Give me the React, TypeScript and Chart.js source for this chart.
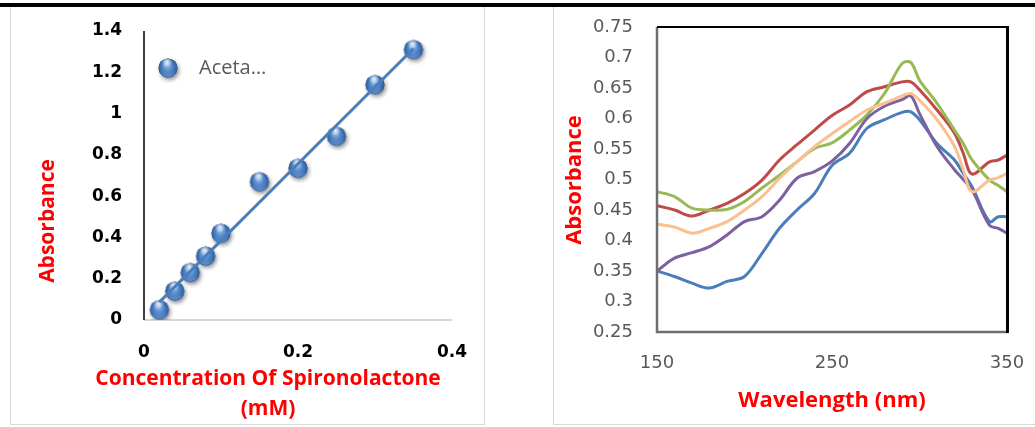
import React, { useEffect, useRef } from "react";
import { Chart, registerables } from "chart.js";

Chart.register(...registerables);

// ---------- Calibration curve (left panel) ----------
const concentrationMM = [0.02, 0.04, 0.06, 0.08, 0.1, 0.15, 0.2, 0.25, 0.3, 0.35];
const calibAbsorbance = [0.05, 0.14, 0.23, 0.31, 0.42, 0.67, 0.735, 0.89, 1.14, 1.31];
const calibSeriesName = "Aceta\u2026";
const calibXTicks = [0, 0.2, 0.4];
const calibYTicks = [0, 0.2, 0.4, 0.6, 0.8, 1, 1.2, 1.4];

// ---------- Absorption spectra (right panel) ----------
const wavelengthNm = [150, 160, 170, 180, 190, 200, 210, 220, 230, 240, 250, 260, 270, 280, 290, 295, 300, 310, 320, 325, 330, 340, 345, 350];
const spectrumBlue = [0.35, 0.341, 0.33, 0.322, 0.333, 0.341, 0.379, 0.42, 0.45, 0.477, 0.523, 0.543, 0.584, 0.598, 0.61, 0.611, 0.598, 0.559, 0.532, 0.51, 0.488, 0.431, 0.439, 0.439];
const spectrumRed = [0.457, 0.45, 0.44, 0.45, 0.461, 0.477, 0.499, 0.532, 0.557, 0.581, 0.605, 0.622, 0.644, 0.652, 0.66, 0.66, 0.647, 0.614, 0.576, 0.543, 0.509, 0.529, 0.532, 0.54];
const spectrumGreen = [0.48, 0.472, 0.453, 0.45, 0.451, 0.464, 0.486, 0.507, 0.529, 0.551, 0.56, 0.581, 0.606, 0.641, 0.69, 0.692, 0.663, 0.625, 0.581, 0.559, 0.532, 0.499, 0.49, 0.48];
const spectrumPurple = [0.35, 0.371, 0.38, 0.39, 0.409, 0.431, 0.439, 0.466, 0.502, 0.513, 0.53, 0.559, 0.6, 0.62, 0.631, 0.637, 0.608, 0.554, 0.516, 0.5, 0.483, 0.425, 0.42, 0.412];
const spectrumPeach = [0.427, 0.422, 0.412, 0.42, 0.431, 0.45, 0.472, 0.502, 0.529, 0.554, 0.575, 0.595, 0.614, 0.625, 0.637, 0.641, 0.63, 0.598, 0.554, 0.516, 0.48, 0.499, 0.503, 0.51];
const spectrumNames = ["Spectrum 1", "Spectrum 2", "Spectrum 3", "Spectrum 4", "Spectrum 5"];
const spectrumColors = ["#4A7EBB", "#BE4B48", "#98B954", "#7D60A0", "#FAC090"];
const spectrumXTicks = [150, 250, 350];
const spectrumYTicks = [0.25, 0.3, 0.35, 0.4, 0.45, 0.5, 0.55, 0.6, 0.65, 0.7, 0.75];

const RED = "#FF0000";

const fmt = (v: number) => String(Number(Number(v).toFixed(2)));

// fixed axis box sizes; label overhang is handled by the layout padding instead
const fixWidth = (w: number) => (s: any) => {
  s.width = w;
  s.paddingTop = s.paddingBottom = s.paddingLeft = s.paddingRight = 0;
};
const fixHeight = (h: number) => (s: any) => {
  s.height = h;
  s.paddingTop = s.paddingBottom = s.paddingLeft = s.paddingRight = 0;
};

function leastSquares(xs: number[], ys: number[]) {
  const n = xs.length;
  const mx = xs.reduce((s, v) => s + v, 0) / n;
  const my = ys.reduce((s, v) => s + v, 0) / n;
  let sxy = 0;
  let sxx = 0;
  for (let i = 0; i < n; i++) {
    sxy += (xs[i] - mx) * (ys[i] - my);
    sxx += (xs[i] - mx) * (xs[i] - mx);
  }
  const slope = sxy / sxx;
  return { slope, intercept: my - slope * mx };
}

// Shaded "glass bead" marker used for the calibration points
function makeBead(): HTMLCanvasElement {
  const size = 30;
  const c = document.createElement("canvas");
  c.width = size;
  c.height = size;
  const g = c.getContext("2d")!;
  const cx = size / 2;
  const cy = size / 2;
  const r = 9.5;
  g.save();
  g.shadowColor = "rgba(0,0,0,0.45)";
  g.shadowBlur = 4;
  g.shadowOffsetX = 1.5;
  g.shadowOffsetY = 2.5;
  g.fillStyle = "#2f5f98";
  g.beginPath();
  g.arc(cx, cy, r, 0, Math.PI * 2);
  g.fill();
  g.restore();

  const body = g.createRadialGradient(cx - 1, cy - 3, 1, cx, cy, r);
  body.addColorStop(0, "#8fb6e8");
  body.addColorStop(0.5, "#4f83c6");
  body.addColorStop(1, "#2b5a96");
  g.fillStyle = body;
  g.beginPath();
  g.arc(cx, cy, r, 0, Math.PI * 2);
  g.fill();

  const rim = g.createLinearGradient(0, cy + 2, 0, cy + r);
  rim.addColorStop(0, "rgba(140,185,240,0)");
  rim.addColorStop(1, "rgba(140,185,240,0.55)");
  g.fillStyle = rim;
  g.beginPath();
  g.arc(cx, cy, r - 0.5, 0, Math.PI * 2);
  g.fill();

  const hl = g.createRadialGradient(cx - 1, cy - 6, 0, cx - 1, cy - 6, 5.5);
  hl.addColorStop(0, "rgba(255,255,255,0.9)");
  hl.addColorStop(1, "rgba(255,255,255,0)");
  g.fillStyle = hl;
  g.beginPath();
  g.arc(cx, cy, r, 0, Math.PI * 2);
  g.fill();
  return c;
}

function CalibrationChart() {
  const ref = useRef<HTMLCanvasElement>(null);
  useEffect(() => {
    const bead = makeBead();
    const fit = leastSquares(concentrationMM, calibAbsorbance);
    const x0 = concentrationMM[0];
    const x1 = concentrationMM[concentrationMM.length - 1];
    const trend = [
      { x: x0, y: fit.slope * x0 + fit.intercept },
      { x: x1, y: fit.slope * x1 + fit.intercept },
    ];

    const decor = {
      id: "calibDecor",
      beforeDatasetsDraw(chart: any) {
        const { ctx, chartArea: a } = chart;
        ctx.save();
        ctx.lineWidth = 1.5;
        ctx.strokeStyle = "#c8c8c8";
        ctx.beginPath();
        ctx.moveTo(a.left, a.bottom);
        ctx.lineTo(a.right, a.bottom);
        ctx.stroke();
        ctx.strokeStyle = "#000000";
        ctx.beginPath();
        ctx.moveTo(a.left, a.top);
        ctx.lineTo(a.left, a.bottom);
        ctx.stroke();
        ctx.restore();
      },
      afterDraw(chart: any) {
        const { ctx, chartArea: a } = chart;
        ctx.save();
        // legend entry
        ctx.drawImage(bead, a.left + 24 - bead.width / 2, a.top + 37 - bead.height / 2);
        ctx.fillStyle = "#595959";
        ctx.font = "20px 'Open Sans'";
        ctx.textAlign = "left";
        ctx.textBaseline = "middle";
        ctx.fillText(calibSeriesName, a.left + 55, a.top + 37);
        // axis titles
        ctx.fillStyle = RED;
        ctx.font = "bold 21px 'Open Sans'";
        ctx.textAlign = "center";
        ctx.fillText("Concentration Of Spironolactone", 257, 371);
        ctx.fillText("(mM)", 257, 401);
        ctx.translate(37, 213);
        ctx.rotate(-Math.PI / 2);
        ctx.fillText("Absorbance", 0, 0);
        ctx.restore();
      },
    };

    const chart = new Chart(ref.current!, {
      type: "scatter",
      data: {
        datasets: [
          {
            type: "line",
            label: "Linear",
            data: trend,
            borderColor: "#4A7EBB",
            borderWidth: 3,
            pointRadius: 0,
            order: 0,
          } as any,
          {
            label: calibSeriesName,
            data: concentrationMM.map((x, i) => ({ x, y: calibAbsorbance[i] })),
            pointStyle: bead as any,
            order: 1,
          },
        ],
      },
      options: {
        responsive: false,
        animation: false,
        layout: { padding: { top: 23, right: 31, left: 0, bottom: 0 } },
        plugins: { legend: { display: false }, tooltip: { enabled: false } },
        scales: {
          x: {
            type: "linear",
            min: calibXTicks[0],
            max: calibXTicks[calibXTicks.length - 1],
            afterBuildTicks: (s: any) => {
              s.ticks = calibXTicks.map((v) => ({ value: v }));
            },
            afterFit: fixHeight(104),
            grid: { display: false, drawTicks: false },
            border: { display: false },
            ticks: {
              padding: 22,
              color: "#000",
              font: { family: "'DejaVu Sans'", size: 17, weight: "bold" },
              callback: (v: any) => fmt(v),
              maxRotation: 0,
            },
          },
          y: {
            type: "linear",
            min: calibYTicks[0],
            max: calibYTicks[calibYTicks.length - 1],
            afterBuildTicks: (s: any) => {
              s.ticks = calibYTicks.map((v) => ({ value: v }));
            },
            afterFit: fixWidth(133),
            grid: { display: false, drawTicks: false },
            border: { display: false },
            ticks: {
              padding: 22,
              color: "#000",
              font: { family: "'DejaVu Sans'", size: 17, weight: "bold" },
              callback: (v: any) => fmt(v),
            },
          },
        },
      },
      plugins: [decor],
    });
    return () => chart.destroy();
  }, []);
  return (
    <canvas
      ref={ref}
      width={472}
      height={416}
      style={{ position: "absolute", left: 11, top: 8, width: 472, height: 416 }}
    />
  );
}

function SpectraChart() {
  const ref = useRef<HTMLCanvasElement>(null);
  useEffect(() => {
    const series = [spectrumBlue, spectrumRed, spectrumGreen, spectrumPurple, spectrumPeach];

    const decor = {
      id: "spectraDecor",
      afterDatasetsDraw(chart: any) {
        const { ctx, chartArea: a } = chart;
        ctx.save();
        ctx.lineWidth = 2.5;
        ctx.strokeStyle = "#6e6e6e";
        ctx.beginPath();
        ctx.moveTo(a.left, a.top);
        ctx.lineTo(a.left, a.bottom);
        ctx.lineTo(a.right, a.bottom);
        ctx.stroke();
        ctx.strokeStyle = "#000000";
        ctx.lineWidth = 2;
        ctx.beginPath();
        ctx.moveTo(a.left, a.top);
        ctx.lineTo(a.right, a.top);
        ctx.stroke();
        ctx.lineWidth = 3;
        ctx.beginPath();
        ctx.moveTo(a.right + 0.5, a.top - 1);
        ctx.lineTo(a.right + 0.5, a.bottom + 1);
        ctx.stroke();
        ctx.restore();
      },
      afterDraw(chart: any) {
        const { ctx } = chart;
        ctx.save();
        ctx.fillStyle = RED;
        ctx.font = "bold 22px 'Open Sans'";
        ctx.textAlign = "center";
        ctx.textBaseline = "middle";
        ctx.fillText("Wavelength (nm)", 278, 393);
        ctx.translate(21, 172);
        ctx.rotate(-Math.PI / 2);
        ctx.fillText("Absorbance", 0, 0);
        ctx.restore();
      },
    };

    const chart = new Chart(ref.current!, {
      type: "line",
      data: {
        datasets: series.map((vals, i) => ({
          label: spectrumNames[i],
          data: wavelengthNm.map((w, j) => ({ x: w, y: vals[j] })),
          borderColor: spectrumColors[i],
          borderWidth: 3,
          pointRadius: 0,
          tension: 0.35,
          fill: false,
          order: series.length - i,
        })),
      },
      options: {
        responsive: false,
        animation: false,
        layout: { padding: { top: 19, right: 28, left: 0, bottom: 0 } },
        plugins: { legend: { display: false }, tooltip: { enabled: false } },
        scales: {
          x: {
            type: "linear",
            min: spectrumXTicks[0],
            max: spectrumXTicks[spectrumXTicks.length - 1],
            afterBuildTicks: (s: any) => {
              s.ticks = spectrumXTicks.map((v) => ({ value: v }));
            },
            afterFit: fixHeight(92),
            grid: { display: false, drawTicks: false },
            border: { display: false },
            ticks: {
              padding: 21,
              color: "#595959",
              font: { family: "'DejaVu Sans'", size: 18 },
              callback: (v: any) => fmt(v),
              maxRotation: 0,
            },
          },
          y: {
            type: "linear",
            min: spectrumYTicks[0],
            max: spectrumYTicks[spectrumYTicks.length - 1],
            afterBuildTicks: (s: any) => {
              s.ticks = spectrumYTicks.map((v) => ({ value: v }));
            },
            afterFit: fixWidth(103),
            grid: { display: false, drawTicks: false },
            border: { display: false },
            ticks: {
              padding: 24,
              color: "#595959",
              font: { family: "'DejaVu Sans'", size: 18 },
              callback: (v: any) => fmt(v),
            },
          },
        },
      },
      plugins: [decor],
    });
    return () => chart.destroy();
  }, []);
  return (
    <canvas
      ref={ref}
      width={481}
      height={416}
      style={{ position: "absolute", left: 554, top: 8, width: 481, height: 416 }}
    />
  );
}

export default function App() {
  return (
    <div
      style={{
        position: "absolute",
        left: 0,
        top: 0,
        width: 1035,
        height: 427,
        background: "#ffffff",
        overflow: "hidden",
      }}
    >
      <div style={{ position: "absolute", left: 0, top: 3, width: 1035, height: 4, background: "#000" }} />
      <div
        style={{
          position: "absolute",
          left: 10,
          top: 7,
          width: 473,
          height: 417,
          borderLeft: "1px solid #d9d9d9",
          borderRight: "1px solid #d9d9d9",
          borderBottom: "1px solid #d9d9d9",
        }}
      />
      <div
        style={{
          position: "absolute",
          left: 553,
          top: 7,
          width: 500,
          height: 417,
          borderLeft: "1px solid #d9d9d9",
          borderBottom: "1px solid #d9d9d9",
        }}
      />
      <CalibrationChart />
      <SpectraChart />
    </div>
  );
}
